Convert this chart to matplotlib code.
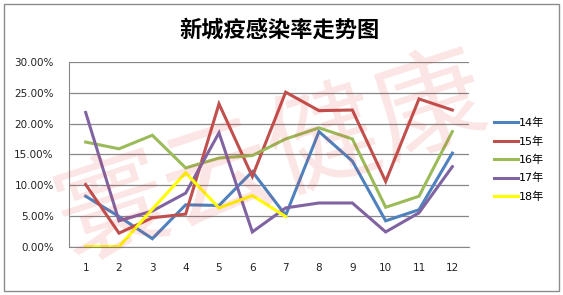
import matplotlib
matplotlib.use("Agg")
import matplotlib.pyplot as plt
from matplotlib.patches import Rectangle
from matplotlib.ticker import FuncFormatter

months = [1, 2, 3, 4, 5, 6, 7, 8, 9, 10, 11, 12]
s14 = [8.2, 4.9, 1.3, 6.8, 6.7, 12.2, 5.1, 18.7, 13.9, 4.2, 6.0, 15.2]
s15 = [10.1, 2.2, 4.7, 5.3, 23.2, 11.4, 25.1, 22.1, 22.2, 10.6, 24.0, 22.2]
s16 = [17.0, 15.9, 18.1, 12.8, 14.4, 14.8, 17.5, 19.3, 17.5, 6.4, 8.2, 18.7]
s17 = [21.8, 4.2, 5.8, 8.7, 18.5, 2.4, 6.3, 7.1, 7.1, 2.4, 5.5, 13.0]
s18 = [0.0, 0.0, 6.1, 12.0, 6.3, 8.3, 4.9]
labels = ["14年", "15年", "16年", "17年", "18年"]
colors = ["#4F81BD", "#C0504D", "#9BBB59", "#8064A2", "#FFFF00"]
yticks = [0, 5, 10, 15, 20, 25, 30]
title = "新城疫感染率走势图"
watermark = "寰云健康"

fig = plt.figure(figsize=(5.63, 2.95), dpi=100)
fig.patch.set_facecolor("white")
fig.patches.append(Rectangle((3.5/563, 4/295), 555/563, 287/295, transform=fig.transFigure,
                             fill=False, edgecolor="#8c8c8c", linewidth=1.0))

ax = fig.add_axes([69/563, (295-246.7)/295, 400/563, 184.7/295])
series = [s14, s15, s16, s17, s18]
for vals, lab, col in zip(series, labels, colors):
    ax.plot(months[:len(vals)], vals, color=col, linewidth=2.2, label=lab, solid_joinstyle="miter")

ax.set_xlim(0.5, 12.5)
ax.set_ylim(0, 30)
ax.set_yticks(yticks)
ax.yaxis.set_major_formatter(FuncFormatter(lambda v, p: f"{v:.2f}%"))
ax.set_xticks(months)
ax.grid(axis="y", color="#878787", linewidth=0.9)
ax.set_axisbelow(True)
for sp in ["top", "right"]:
    ax.spines[sp].set_visible(False)
ax.spines["left"].set_color("#878787")
ax.spines["bottom"].set_color("#878787")
ax.tick_params(axis="both", length=0, labelsize=7.5, colors="#222222")
ax.tick_params(axis="x", pad=12)
ax.tick_params(axis="y", pad=11)

fig.text(280/563, 1 - 30/295, title, ha="center", va="center", fontsize=16,
         fontweight="bold", family=["Noto Sans CJK SC", "DejaVu Sans"])

leg = fig.legend(loc="upper left", bbox_to_anchor=(484/563, 1 - 108/295), frameon=False,
                 prop={"family": ["DejaVu Sans", "Noto Sans CJK SC"], "size": 8},
                 handlelength=2.2, handletextpad=0.05, labelspacing=0.72)

fig.text(272/563, 1 - 160/295, watermark, ha="center", va="center", fontsize=80,
         rotation=18, color="#e03030", alpha=0.13, family=["Noto Sans CJK SC"], zorder=10)

fig.savefig("out.png", dpi=100)
